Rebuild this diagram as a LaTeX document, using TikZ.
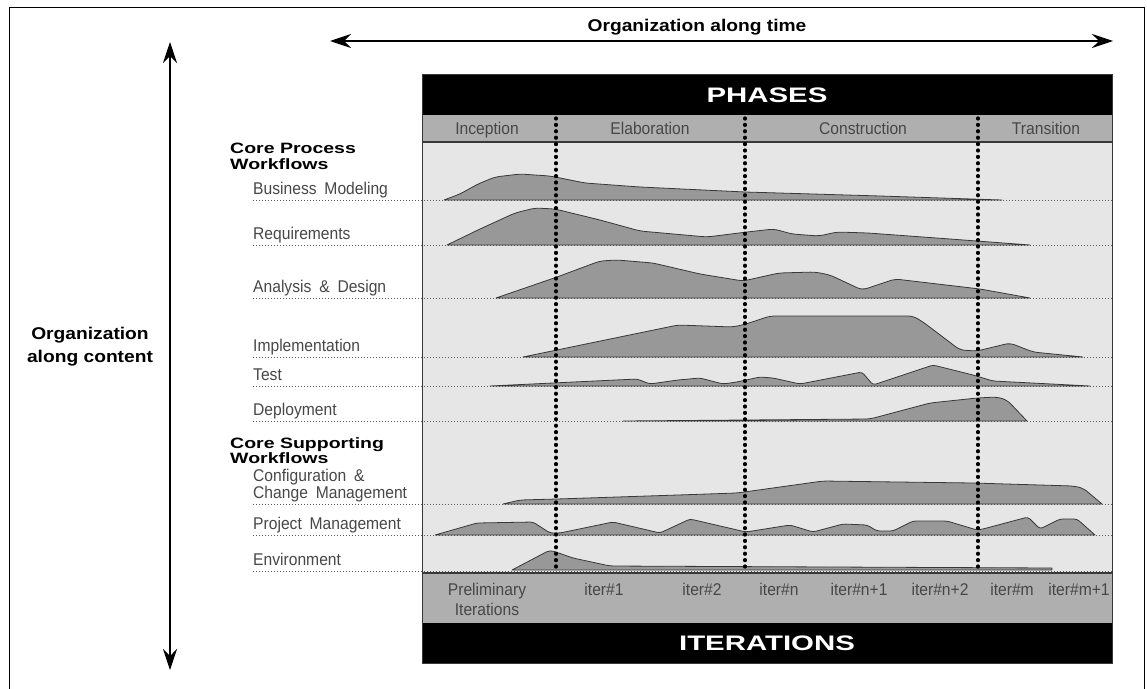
\documentclass[tikz,border=0pt]{standalone}
\usepackage{fontspec}
\setmainfont{Liberation Sans}
\newfontfamily\lblfont[FakeStretch=0.92,WordSpace=1.8]{Liberation Sans}
\newfontfamily\headfont[FakeStretch=1.3]{Liberation Sans}
\newfontfamily\orgfont[FakeStretch=1.13]{Liberation Sans}
\newfontfamily\barfont[FakeStretch=1.4]{Liberation Sans}
\usepackage{tikz}
\usetikzlibrary{
  arrows.meta
}
\definecolor{panelgray}{HTML}{E6E6E6}
\definecolor{bargray}{HTML}{AFAFAF}
\definecolor{humpfill}{HTML}{989898}
\definecolor{humpline}{HTML}{383838}
\definecolor{labelgray}{HTML}{474747}
\definecolor{dotgray}{HTML}{5E5E5E}

\begin{document}
\begin{tikzpicture}[>={Stealth[length=21pt,width=14pt,inset=7pt]}, x=1pt, y=-1pt]
  \tikzset{
    hump/.style={fill=humpfill, draw=humpline, line width=0.8pt, line join=round},
    flowline/.style={draw=dotgray, line width=1pt, dash pattern=on 1pt off 2pt},
    phasediv/.style={line width=3.2pt, line cap=round, dash pattern=on 1pt off 5.4pt},
    flowlabel/.style={anchor=base west, inner sep=0pt, text=labelgray,
      font=\lblfont\fontsize{17}{17}\selectfont},
    phaselabel/.style={anchor=base, inner sep=0pt, text=labelgray,
      font=\lblfont\fontsize{17}{17}\selectfont},
    iterlabel/.style={anchor=base, inner sep=0pt, text=labelgray,
      font=\lblfont\fontsize{17}{20}\selectfont},
    grouplabel/.style={anchor=north west, inner sep=0pt, align=left,
      font=\headfont\bfseries\fontsize{15}{15.5}\selectfont},
    orglabel/.style={inner sep=0pt, align=center,
      font=\orgfont\bfseries\fontsize{17}{23}\selectfont},
    barlabel/.style={inner sep=0pt, text=white,
      font=\barfont\bfseries\fontsize{21}{21}\selectfont},
    % every path/.style={thick},
  }
  \useasboundingbox (0,0) rectangle (1147,688);

  % outer frame
  \draw[line width=1pt] (9,700) -- (9,7) -- (1144,7) -- (1144,700);

  % the two axes
  \coordinate (t0) at (330,41);
  \coordinate (t1) at (1113,41);
  \coordinate (c0) at (170,42);
  \coordinate (c1) at (170,670);
  \draw[line width=1.3pt, <->] (t0) -- (t1);
  \draw[line width=1.3pt, <->] (c0) -- (c1);
  \node[orglabel] (orgtime) at (697,27) {Organization along time};
  \node[orglabel] (orgcontent) at (90,347) {Organization\\along content};

  % panel and bars
  \fill[panelgray] (422,142) rectangle (1112,573);
  \fill[black] (422,74) rectangle (1112,115);
  \fill[bargray] (422,115) rectangle (1112,142);
  \fill[bargray] (422,573) rectangle (1112,623);
  \fill[black] (422,623) rectangle (1112,663);
  \draw[humpline, line width=1.8pt] (422,142) -- (1112,142);
  \draw[humpline, line width=1.8pt] (422,573) -- (1112,573);

  % dotted base lines
  \foreach \yy in {200,245,298,357,386,421,504,535,571}
    \draw[flowline] (253,\yy) -- (1112,\yy);

  % humps
  \filldraw[hump] (444,200) [rounded corners=5pt] -- (460,194) -- (478,184) -- (495,177)
    -- (520,174) -- (550,176) -- (585,183) -- (640,187) -- (745,192) -- (880,196)
    [sharp corners] -- (1002,200) -- cycle;
  \filldraw[hump] (447,245) [rounded corners=5pt] -- (480,229) -- (515,213) -- (535,208)
    -- (555,209) -- (600,220) -- (640,231) -- (707,237) -- (747,232) -- (774,229)
    -- (792,234) -- (819,236) -- (837,232) -- (868,233) -- (950,239)
    [sharp corners] -- (1030,245) -- cycle;
  \filldraw[hump] (496,298) [rounded corners=5pt] -- (557,277) -- (600,261) -- (617,260)
    -- (653,263) -- (700,274) -- (743,281) -- (779,273) -- (815,272) -- (830,275)
    -- (862,290) -- (895,279) -- (980,289) [sharp corners] -- (1030,298) -- cycle;
  \filldraw[hump] (523,357) [rounded corners=5pt] -- (678,325) -- (733,327) -- (746,324)
    -- (770,316) -- (913,316) -- (923,322) -- (960,350) -- (977,351) -- (1010,343)
    -- (1033,352) [sharp corners] -- (1083,357) -- cycle;
  \filldraw[hump] (490,386) [rounded corners=3pt] -- (637,379) -- (650,384) -- (678,380)
    -- (700,378) -- (723,384) -- (737,382) -- (760,377) -- (773,378) -- (800,384)
    -- (862,372) -- (873,385) -- (933,365) -- (973,375) -- (993,381)
    [sharp corners] -- (1090,386) -- cycle;
  \filldraw[hump] (623,421) [rounded corners=5pt] -- (870,419) -- (930,403) -- (977,398)
    -- (997,397) -- (1007,400) [sharp corners] -- (1027,421) -- cycle;
  \filldraw[hump] (503,504) [rounded corners=5pt] -- (520,500) -- (557,499) -- (678,495)
    -- (737,493) -- (823,481) -- (973,483) -- (1073,486) -- (1083,488)
    [sharp corners] -- (1102,504) -- cycle;
  \filldraw[hump] (435,535) [rounded corners=3pt] -- (477,523) -- (533,522) -- (550,533)
    -- (560,533) -- (613,522) -- (660,533) -- (690,519) -- (746,532) -- (790,525)
    -- (813,532) -- (843,524) -- (867,525) -- (877,531) -- (893,531) -- (913,521)
    -- (947,521) -- (977,530) -- (983,529) -- (1028,517) -- (1040,529) -- (1060,519)
    -- (1077,519) [sharp corners] -- (1095,535) -- cycle;
  \filldraw[hump] (512,570) [rounded corners=4pt] -- (550,550) -- (573,558) -- (610,566)
    [sharp corners] -- (1052,568) -- (1052,570) -- cycle;

  % phase borders
  \foreach \xx in {556,745,978}
    \draw[phasediv] (\xx,118) -- (\xx,572);

  \draw[humpline, line width=1pt] (422,74) rectangle (1112,663);

  % texts
  \node[barlabel] (phases) at (767,95) {PHASES};
  \node[barlabel] (iterations) at (767,643) {ITERATIONS};

  \foreach \xx/\txt [count=\i] in {487/Inception, 650/Elaboration, 863/Construction, 1046/Transition}
    \node[phaselabel] (ph\i) at (\xx,134) {\txt};

  \node[iterlabel, align=center] (it0) at (487,615) {Preliminary\\Iterations};
  \foreach \xx/\txt [count=\i] in {604/iter\#1, 702/iter\#2, 779/iter\#n, 859/iter\#n+1,
      940/iter\#n+2, 1012/iter\#m, 1079/iter\#m+1}
    \node[iterlabel] (it\i) at (\xx,595) {\txt};

  \node[grouplabel] (coreproc) at (230,143) {Core Process\\Workflows};
  \node[grouplabel] (coresupp) at (230,437) {Core Supporting\\Workflows};

  \foreach \yy/\txt in {200/Business Modeling, 245/Requirements, 298/Analysis \& Design,
      357/Implementation, 386/Test, 421/Deployment, 535/Project Management, 571/Environment}
    \node[flowlabel] (wf\yy) at (253,\yy-6) {\txt};
  \node[flowlabel, align=left] (wf504) at (253,498) {Configuration \&\\Change Management};

\end{tikzpicture}
\end{document}
